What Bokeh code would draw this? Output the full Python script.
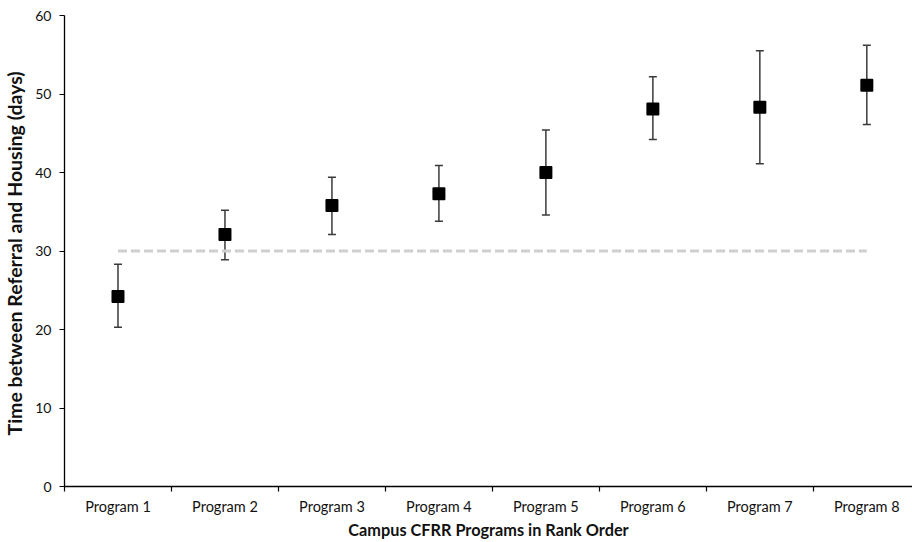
from bokeh.plotting import figure
from bokeh.models import ColumnDataSource, Whisker, TeeHead, FixedTicker, Range1d
from bokeh.embed import file_html
from bokeh.resources import INLINE

# ---- data ----
programs = ["Program 1", "Program 2", "Program 3", "Program 4",
            "Program 5", "Program 6", "Program 7", "Program 8"]
mean_days = [24.2, 32.1, 35.8, 37.3, 40.0, 48.1, 48.3, 51.1]
upper_days = [28.3, 35.2, 39.4, 40.9, 45.4, 52.2, 55.5, 56.2]
lower_days = [20.3, 28.9, 32.1, 33.8, 34.6, 44.2, 41.1, 46.1]
threshold_days = 30
y_ticks = [0, 10, 20, 30, 40, 50, 60]

# category centres on a numeric axis (ticks between categories)
xpos = [i + 0.5 for i in range(len(programs))]
boundaries = list(range(len(programs) + 1))

src = ColumnDataSource(dict(x=xpos, y=mean_days, upper=upper_days,
                            lower=lower_days, name=programs))

p = figure(width=912, height=542, output_backend="svg", toolbar_location=None,
           x_range=Range1d(0, 7.927), y_range=Range1d(0, 60),
           min_border_left=63, min_border_right=0, min_border_top=15,
           min_border_bottom=56)
p.outline_line_color = None
p.xgrid.visible = False
p.ygrid.visible = False
p.background_fill_color = "white"

# threshold dashed line from first to last program
p.line(x=[xpos[0], xpos[-1]], y=[threshold_days, threshold_days],
       line_color="#cfcfcf", line_width=3, line_dash="9 4")

# error bars
w = Whisker(source=src, base="x", upper="upper", lower="lower",
            dimension="height", line_color="#3a3a3a", line_width=1.5,
            upper_head=TeeHead(size=8, line_color="#3a3a3a", line_width=1.5),
            lower_head=TeeHead(size=8, line_color="#3a3a3a", line_width=1.5))
p.add_layout(w)

# markers
p.scatter(x="x", y="y", source=src, marker="square", size=11,
          fill_color="black", line_color="black", line_width=2,
          line_join="round")

FONT = "Lato"

# x axis: labels at centres, tick marks at boundaries (minor ticks)
xa = p.xaxis[0]
xa.ticker = FixedTicker(ticks=xpos, minor_ticks=boundaries)
xa.major_label_overrides = {x: n for x, n in zip(xpos, programs)}
xa.major_tick_line_color = None
xa.major_tick_in = 0
xa.major_tick_out = 5
xa.minor_tick_line_color = "black"
xa.minor_tick_line_width = 1.2
xa.minor_tick_in = 0
xa.minor_tick_out = 5
xa.axis_line_color = "black"
xa.axis_line_width = 1.3
xa.major_label_standoff = 6
xa.major_label_text_font = FONT
xa.major_label_text_font_size = "14.5px"
xa.major_label_text_color = "#111111"
xa.axis_label = "Campus CFRR Programs in Rank Order"
xa.axis_label_text_font = FONT
xa.axis_label_text_font_size = "16.3px"
xa.axis_label_text_font_style = "bold"
xa.axis_label_text_color = "#111111"
xa.axis_label_standoff = 2

# y axis
ya = p.yaxis[0]
ya.ticker = FixedTicker(ticks=y_ticks, minor_ticks=[])
ya.major_tick_in = 0
ya.major_tick_out = 5
ya.major_tick_line_color = "black"
ya.major_tick_line_width = 1.2
ya.axis_line_color = "black"
ya.axis_line_width = 1.3
ya.major_label_standoff = 8
ya.major_label_text_font = FONT
ya.major_label_text_font_size = "14px"
ya.major_label_text_color = "#111111"
ya.axis_label = "Time between Referral and  Housing (days)"
ya.axis_label_text_font = FONT
ya.axis_label_text_font_size = "19.5px"
ya.axis_label_text_font_style = "bold"
ya.axis_label_text_color = "#111111"
ya.axis_label_standoff = 6

open("out.html", "w").write(file_html(p, INLINE))
